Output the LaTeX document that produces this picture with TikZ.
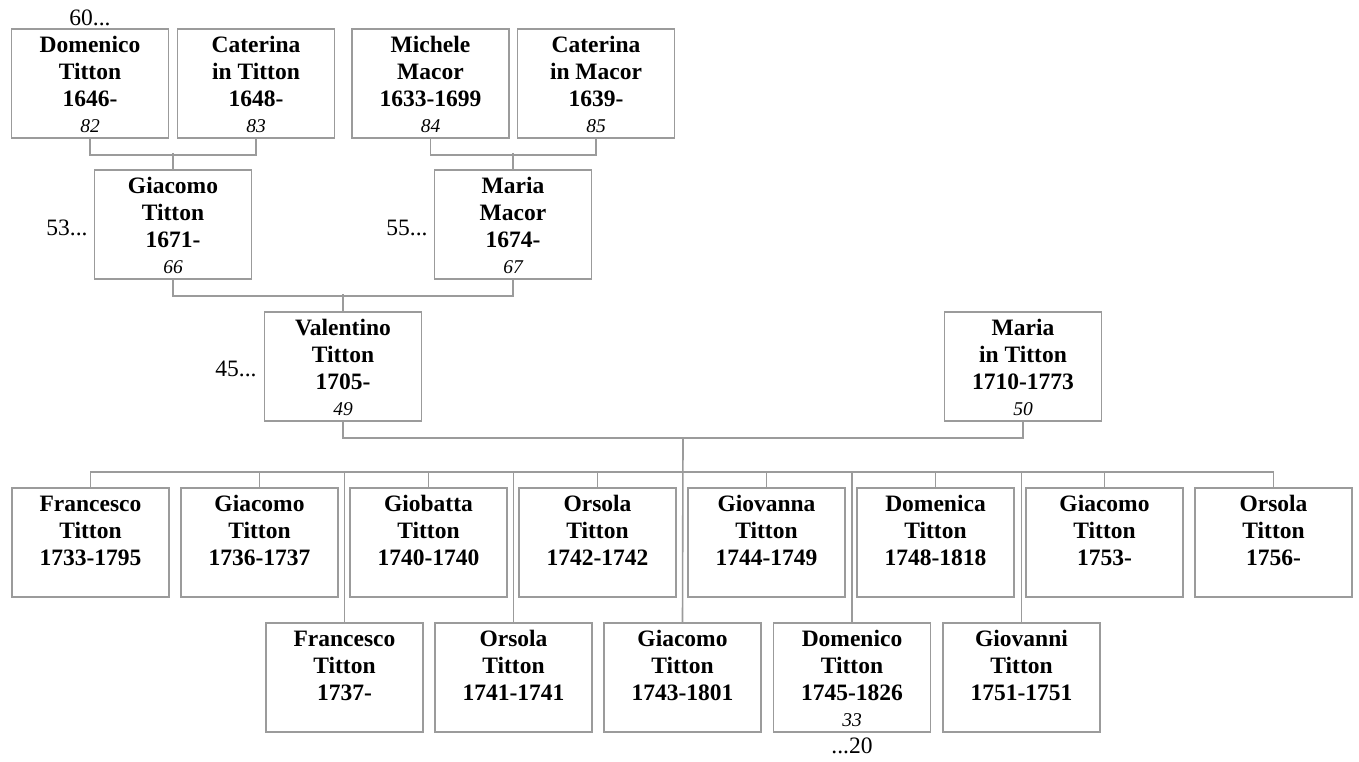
\documentclass[tikz,border=0pt]{standalone}
\usepackage{fontspec}
\setmainfont{Liberation Serif}
\usetikzlibrary{calc}
\definecolor{lgray}{RGB}{155,155,155}
\tikzset{
  pbox/.style={draw=lgray, line width=1.6pt, fill=white, minimum width=157pt, minimum height=109pt, inner sep=0pt},
  nm/.style={anchor=base, inner sep=0pt, font=\bfseries\fontsize{23.5}{27}\selectfont},
  num/.style={anchor=base, inner sep=0pt, font=\itshape\fontsize{19.5}{22}\selectfont},
  side/.style={inner sep=0pt, font=\fontsize{23.5}{27}\selectfont},
  conn/.style={draw=lgray, line width=1.6pt}
}
\newcommand{\pers}[7]{%
  \node[pbox] (#1) at (#2,#3) {};
  \node[nm] (#1a) at ([yshift=-24pt]#1.north) {#4};
  \node[nm] (#1b) at ([yshift=-51pt]#1.north) {#5};
  \node[nm] (#1c) at ([yshift=-78pt]#1.north) {#6};
  \node[num] (#1d) at ([yshift=-104pt]#1.north) {#7};
}
\begin{document}
\begin{tikzpicture}[x=1pt,y=-1pt]
\useasboundingbox (0,0) rectangle (1359,761);
\coordinate (busy) at (0,472);
% generation 1
\pers{a1}{90}{83.5}{Domenico}{Titton}{1646-}{82}
\pers{a2}{256}{83.5}{Caterina}{in Titton}{1648-}{83}
\pers{a3}{430.5}{83.5}{Michele}{Macor}{1633-1699}{84}
\pers{a4}{596}{83.5}{Caterina}{in Macor}{1639-}{85}
% generation 2
\pers{b1}{173}{224.5}{Giacomo}{Titton}{1671-}{66}
\pers{b2}{513}{224.5}{Maria}{Macor}{1674-}{67}
% generation 3
\pers{c1}{343}{366.5}{Valentino}{Titton}{1705-}{49}
\pers{c2}{1023}{366.5}{Maria}{in Titton}{1710-1773}{50}
% children row 1
\pers{d1}{90.5}{542.5}{Francesco}{Titton}{1733-1795}{}
\pers{d2}{259.5}{542.5}{Giacomo}{Titton}{1736-1737}{}
\pers{d3}{428.5}{542.5}{Giobatta}{Titton}{1740-1740}{}
\pers{d4}{597.5}{542.5}{Orsola}{Titton}{1742-1742}{}
\pers{d5}{766.5}{542.5}{Giovanna}{Titton}{1744-1749}{}
\pers{d6}{935.5}{542.5}{Domenica}{Titton}{1748-1818}{}
\pers{d7}{1104.5}{542.5}{Giacomo}{Titton}{1753-}{}
\pers{d8}{1273.5}{542.5}{Orsola}{Titton}{1756-}{}
% children row 2
\pers{e1}{344.5}{677.5}{Francesco}{Titton}{1737-}{}
\pers{e2}{513.5}{677.5}{Orsola}{Titton}{1741-1741}{}
\pers{e3}{682.5}{677.5}{Giacomo}{Titton}{1743-1801}{}
\pers{e4}{852}{677.5}{Domenico}{Titton}{1745-1826}{33}
\pers{e5}{1021.5}{677.5}{Giovanni}{Titton}{1751-1751}{}
% connectors
\draw[conn] (a1.south) -- ++(0,16) -| (a2.south);
\draw[conn] (b1.north) -- ++(0,-16);
\draw[conn] (a3.south) -- ++(0,16) -| (a4.south);
\draw[conn] (b2.north) -- ++(0,-16);
\draw[conn] (b1.south) -- ++(0,16) -| (b2.south);
\draw[conn] (c1.north) -- ++(0,-17);
\draw[conn] (c1.south) -- ++(0,16) -| (c2.south);
\coordinate (fam) at ($(c1.south)!0.5!(c2.south)+(0,16)$);
\draw[conn] (fam) -- (e3.north);
\draw[conn] (d1.north) -- (d1.north |- busy) -| (d8.north);
\foreach \k in {d2,d3,d4,d5,d6,d7}{\draw[conn] (\k.north) -- (\k.north |- busy);}
\foreach \k in {e1,e2,e4,e5}{\draw[conn] (\k.north) -- (\k.north |- busy);}
% side labels
\node[side, anchor=base] (l60) at ([yshift=3pt]a1.north) {60...};
\node[side, anchor=base east] (l53) at ([xshift=-6pt,yshift=-10.5pt]b1.west) {53...};
\node[side, anchor=base east] (l55) at ([xshift=-6pt,yshift=-10.5pt]b2.west) {55...};
\node[side, anchor=base east] (l45) at ([xshift=-7pt,yshift=-9.5pt]c1.west) {45...};
\node[side, anchor=base] (l20) at ([yshift=-21pt]e4.south) {...20};
\end{tikzpicture}
\end{document}
